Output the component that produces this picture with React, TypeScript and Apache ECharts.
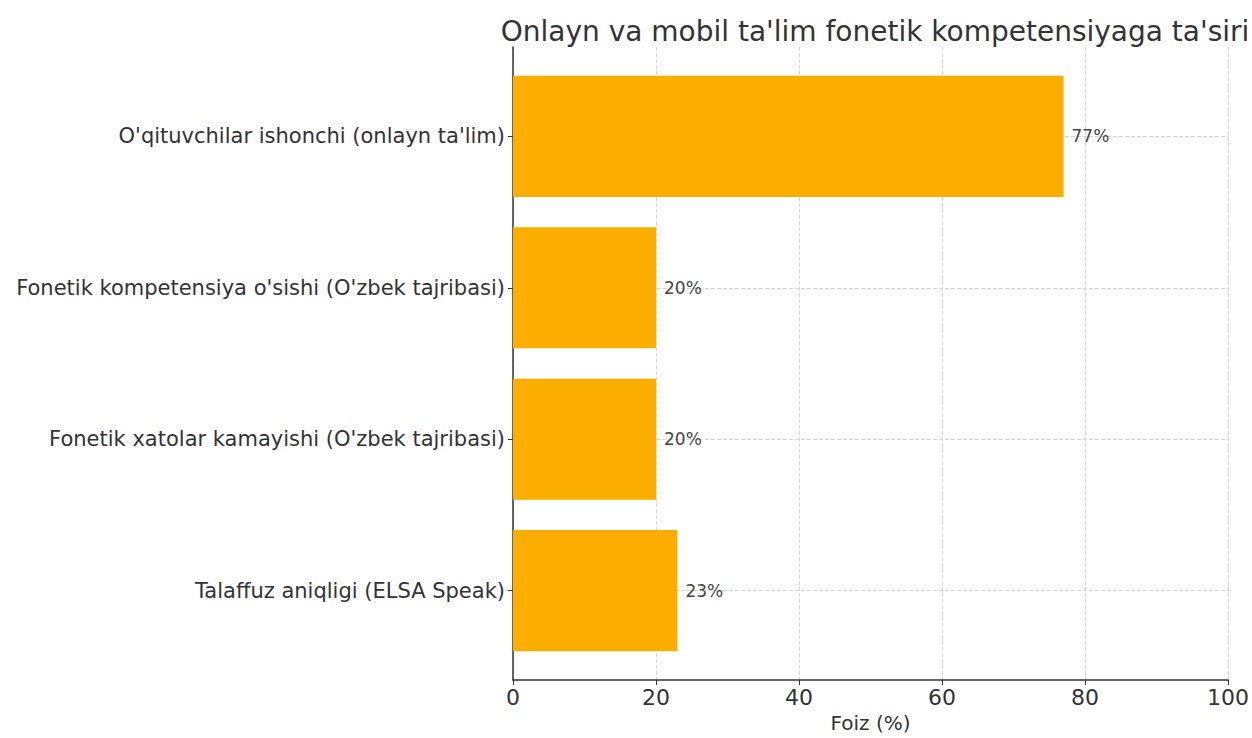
import React, { useEffect, useRef } from "react";
import * as echarts from "echarts";

const categories = [
  "O'qituvchilar ishonchi (onlayn ta'lim)",
  "Fonetik kompetensiya o'sishi (O'zbek tajribasi)",
  "Fonetik xatolar kamayishi (O'zbek tajribasi)",
  "Talaffuz aniqligi (ELSA Speak)",
];
const values = [77, 20, 20, 23];
const xTicks = [0, 20, 40, 60, 80, 100];
const title = "Onlayn va mobil ta'lim fonetik kompetensiyaga ta'siri";
const xName = "Foiz (%)";

const FONT = "DejaVu Sans";

export default function App() {
  const ref = useRef<HTMLDivElement>(null);
  useEffect(() => {
    if (!ref.current) return;
    const chart = echarts.init(ref.current, null, { renderer: "svg" });
    const data = values.map((v, i) => [v, i]);
    chart.setOption({
      animation: false,
      backgroundColor: "#ffffff",
      title: {
        text: title,
        left: 870,
        textAlign: "center",
        top: 12,
        textStyle: { fontFamily: FONT, fontSize: 28, fontWeight: "normal", color: "#333333" },
      },
      grid: { left: 513, right: 24, top: 47, bottom: 52, containLabel: false },
      xAxis: {
        type: "value",
        min: 0,
        max: 100,
        interval: 20,
        name: xName,
        nameLocation: "middle",
        nameGap: 33,
        nameTextStyle: { fontFamily: FONT, fontSize: 20, color: "#333333" },
        axisLine: { show: true, onZero: false, lineStyle: { color: "#333333", width: 1.5 } },
        axisTick: { show: true, length: 5, lineStyle: { color: "#333333" } },
        axisLabel: {
          fontFamily: FONT,
          fontSize: 22,
          color: "#333333",
          margin: 6,
          customValues: xTicks,
        },
        splitLine: { show: true, lineStyle: { color: "#d5d5d5", type: "dashed", width: 1 } },
      },
      yAxis: {
        type: "value",
        inverse: true,
        min: -0.59,
        max: 3.59,
        axisLine: { show: true, onZero: false, lineStyle: { color: "#333333", width: 1.5 } },
        axisTick: { show: true, length: 5, customValues: [0, 1, 2, 3], lineStyle: { color: "#333333" } },
        axisLabel: {
          fontFamily: FONT,
          fontSize: 21,
          color: "#333333",
          margin: 8,
          customValues: [0, 1, 2, 3],
          formatter: (v: number) => categories[Math.round(v)] ?? "",
        },
        splitLine: { show: false },
      },
      series: [
        {
          type: "custom",
          data,
          encode: { x: 0, y: 1 },
          renderItem: (params: any, api: any) => {
            const v = api.value(0);
            const idx = api.value(1);
            const start = api.coord([0, idx]);
            const end = api.coord([v, idx]);
            const h = api.size([0, 0.8])[1];
            return {
              type: "group",
              children: [
                {
                  type: "rect",
                  shape: { x: start[0], y: start[1] - h / 2, width: end[0] - start[0], height: h },
                  style: { fill: "#FBAD00" },
                },
                {
                  type: "text",
                  x: end[0] + 8,
                  y: end[1],
                  style: {
                    text: v + "%",
                    fill: "#444444",
                    fontFamily: FONT,
                    fontSize: 17,
                    verticalAlign: "middle",
                  },
                },
              ],
            };
          },
          markLine: {
            silent: true,
            symbol: "none",
            label: { show: false },
            lineStyle: { color: "#d5d5d5", type: "dashed", width: 1 },
            data: [0, 1, 2, 3].map((i) => ({ yAxis: i })),
            z: 0,
          },
          z: 2,
        },
      ],
    });
    return () => chart.dispose();
  }, []);
  return <div ref={ref} style={{ position: "fixed", left: 0, top: 0, width: 1252, height: 738 }} />;
}
